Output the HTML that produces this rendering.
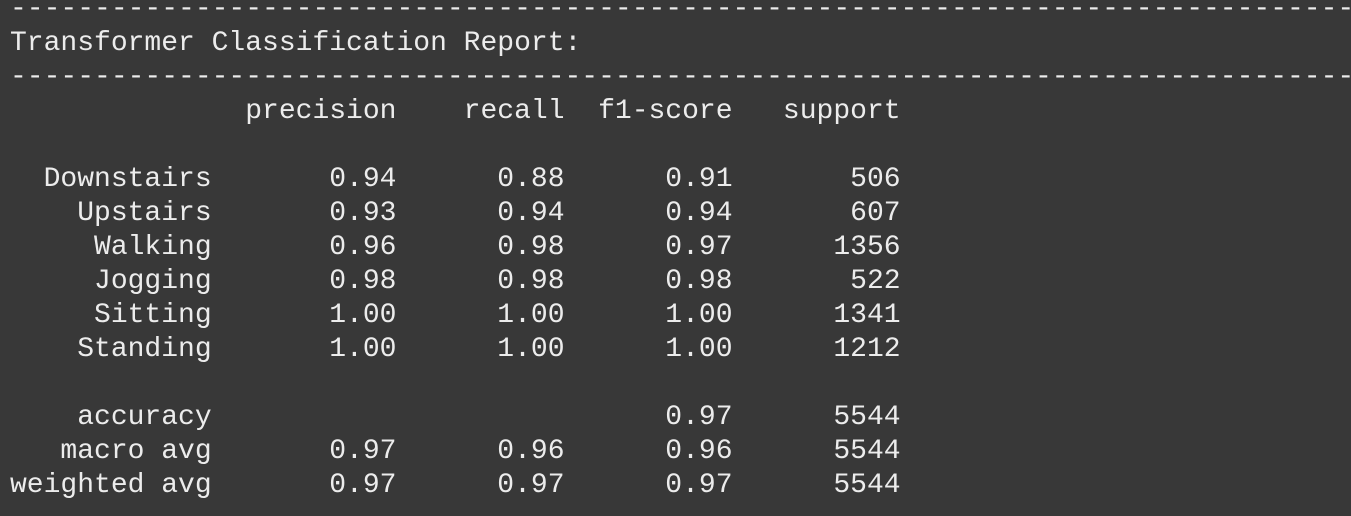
<!DOCTYPE html>
<html>
<head>
<meta charset="utf-8">
<style>
  html, body { margin: 0; padding: 0; }
  body {
    width: 1351px; height: 516px; overflow: hidden; position: relative;
    background: #383838;
  }
  #report {
    position: absolute; left: 10px; top: -7px; width: 1341px; overflow: hidden;
    font-family: "Liberation Mono", monospace;
    font-size: 28px; line-height: 34px;
    color: #ececec; white-space: pre; margin: 0;
  }
  .row { height: 34px; overflow: hidden; }
</style>
</head>
<body>
<div id="report"></div>
<script>
const labels = ["Downstairs","Upstairs","Walking","Jogging","Sitting","Standing"];
const precision = [0.94,0.93,0.96,0.98,1.00,1.00];
const recall = [0.88,0.94,0.98,0.98,1.00,1.00];
const f1 = [0.91,0.94,0.97,0.98,1.00,1.00];
const support = [506,607,1356,522,1341,1212];
const avgLabels = ["macro avg","weighted avg"];
const avgPrecision = [0.97,0.97];
const avgRecall = [0.96,0.97];
const avgF1 = [0.96,0.97];
const avgSupport = [5544,5544];
const accuracy = 0.97;
const total = 5544;

function pad(s, n) { s = String(s); while (s.length < n) s = " " + s; return s; }
function fmtRow(name, p, r, f, s) {
  return pad(name,12) + " " + pad(p.toFixed(2),10) + pad(r.toFixed(2),10) + pad(f.toFixed(2),10) + pad(s,10);
}
const dash = "-".repeat(80);
const lines = [];
lines.push(["top-divider", dash]);
lines.push(["report-title", "Transformer Classification Report:"]);
lines.push(["title-divider", dash]);
lines.push(["header-row", pad("",13) + pad("precision",10) + pad("recall",10) + pad("f1-score",10) + pad("support",10)]);
lines.push(["blank-row", ""]);
labels.forEach((l,i) => lines.push(["row-" + l.toLowerCase(), fmtRow(l, precision[i], recall[i], f1[i], support[i])]));
lines.push(["blank-row", ""]);
lines.push(["row-accuracy", pad("accuracy",12) + " " + pad("",20) + pad(accuracy.toFixed(2),10) + pad(total,10)]);
avgLabels.forEach((l,i) => lines.push(["row-" + l.replace(" ","-"), fmtRow(l, avgPrecision[i], avgRecall[i], avgF1[i], avgSupport[i])]));

const rep = document.getElementById("report");
lines.forEach(([name, text]) => {
  const d = document.createElement("div");
  d.className = "row";
  d.textContent = text;
  
  
  rep.appendChild(d);
});
</script>
</body>
</html>
